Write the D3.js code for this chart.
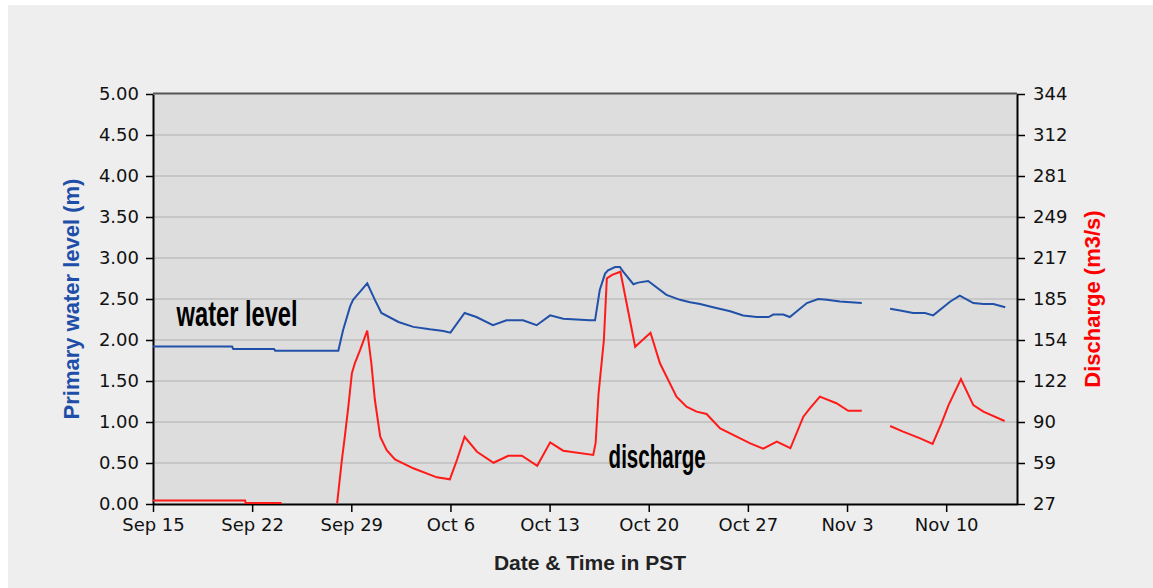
<!DOCTYPE html>
<html>
<head>
<meta charset="utf-8">
<script src="https://cdn.jsdelivr.net/npm/d3@7"></script>
<style>
  body { margin: 0; background: #ffffff; }
  svg { display: block; }
</style>
</head>
<body>
<svg id="chart" width="1153" height="588"></svg>
<script>
// water level (m), discharge (m3/s)
var levelDates = ["09-15 00","09-20 14","09-20 16","09-23 13","09-23 15","09-28 02","09-28 10","09-28 22",
	"09-29 03","09-29 15","09-30 03","09-30 16","10-01 03","10-02 08","10-03 09","10-04 13","10-05 12",
	"10-06 00","10-07 00","10-07 20","10-09 00","10-09 23","10-11 03","10-12 02","10-13 01","10-13 23",
	"10-15 20","10-16 05","10-16 13","10-16 22","10-17 03","10-17 15","10-17 23","10-18 05","10-18 22",
	"10-19 06","10-19 23","10-20 08","10-21 06","10-22 05","10-22 22","10-23 15","10-24 13","10-25 18",
	"10-26 16","10-27 15","10-28 11","10-28 19","10-29 12","10-29 23","10-30 11","10-31 04","10-31 23",
	"11-01 14","11-02 12","11-04 01","11-05 00","11-06 01","11-06 18","11-07 16","11-08 12","11-09 02",
	"11-10 07","11-10 23","11-11 22","11-12 15","11-13 08","11-14 04"];
var levelValues = [1.92,1.92,1.89,1.89,1.87,1.87,2.12,2.41,
	2.49,2.59,2.69,2.49,2.33,2.22,2.16,2.13,2.11,
	2.09,2.33,2.28,2.18,2.24,2.24,2.18,2.30,2.26,
	2.24,2.24,2.61,2.81,2.85,2.89,2.89,2.83,2.68,
	2.70,2.72,2.67,2.55,2.49,2.46,2.44,2.40,2.35,
	2.30,2.28,2.28,2.31,2.31,2.28,2.35,2.45,2.50,
	2.49,2.47,2.45,null,2.38,2.36,2.33,2.33,2.30,
	2.47,2.54,2.45,2.44,2.44,2.40];

var flowDates = ["09-15 00","09-21 12","09-21 13","09-24 02","09-26 00","09-28 00","09-28 08","09-28 13",
	"09-28 19","09-29 01","09-29 06","09-29 15","09-30 03","09-30 10","09-30 16","10-01 01","10-01 12",
	"10-02 02","10-03 09","10-05 01","10-05 23","10-06 11","10-07 00","10-07 21","10-09 01","10-10 02",
	"10-11 01","10-12 03","10-13 01","10-13 23","10-16 02","10-16 06","10-16 11","10-16 20","10-17 01",
	"10-17 10","10-18 00","10-18 05","10-19 01","10-20 03","10-20 19","10-21 23","10-22 16","10-23 09",
	"10-24 02","10-25 01","10-25 23","10-27 04","10-28 02","10-29 01","10-30 00","10-30 22","10-31 09",
	"11-01 02","11-02 06","11-03 02","11-04 01","11-05 00","11-06 01","11-06 23","11-08 04","11-09 01",
	"11-09 16","11-10 04","11-11 01","11-11 22","11-12 15","11-14 03"];
var flowValues = [29.7,29.7,27.8,27.8,null,27.5,61.0,79.0,
	102.2,128.1,135.8,146.1,161.0,135.8,107.4,79.0,68.7,
	61.5,54.6,47.6,46.1,61.0,79.0,67.4,58.9,64.3,
	64.3,56.6,74.7,68.2,64.9,74.2,112.6,153.8,201.5,
	204.1,206.6,195.0,148.6,159.4,135.8,110.0,102.2,98.4,
	96.6,85.5,80.4,73.9,69.8,75.2,70.1,94.5,101.0,
	110.0,104.9,99.1,99.1,null,87.3,82.9,77.8,73.4,
	89.4,103.5,123.6,103.5,98.4,91.2];

var dateTicks = ["09-15","09-22","09-29","10-06","10-13","10-20","10-27","11-03","11-10"];
var levelTicks = [0,0.5,1,1.5,2,2.5,3,3.5,4,4.5,5];
var flowTickLabels = ["27","59","90","122","154","185","217","249","281","312","344"];

var parseTime = d3.timeParse("%Y-%m-%d %H");
var parseDay = d3.timeParse("%Y-%m-%d");
var year = "2009-";

var plotLeft = 153, plotRight = 1017, plotTop = 94, plotBottom = 504;

var svg = d3.select("#chart");

svg.append("rect")
	.attr("x", 8).attr("y", 5)
	.attr("width", 1153 - 8).attr("height", 588 - 5)
	.style("fill", "#eeeeee");

var x = d3.scaleTime()
	.domain([parseDay(year + "09-15"), parseDay(year + "11-15")])
	.range([plotLeft, plotRight]);

var yLevel = d3.scaleLinear().domain([0, 5]).range([plotBottom, plotTop]);
var yFlow = d3.scaleLinear().domain([27, 344]).range([plotBottom, plotTop]);

svg.append("rect")
	.attr("x", plotLeft).attr("y", plotTop)
	.attr("width", plotRight - plotLeft).attr("height", plotBottom - plotTop)
	.style("fill", "#dddddd");

// grid
svg.append("g")
	.selectAll("line")
	.data(levelTicks.slice(1, -1))
	.join("line")
	.attr("x1", plotLeft).attr("x2", plotRight)
	.attr("y1", function (d) { return yLevel(d); })
	.attr("y2", function (d) { return yLevel(d); })
	.style("stroke", "#c6c6c6")
	.style("stroke-width", 2);

var tickFont = "'DejaVu Sans', Verdana, sans-serif";

var axisLeft = svg.append("g")
	.attr("transform", "translate(" + plotLeft + ",0)")
	.call(d3.axisLeft(yLevel).tickValues(levelTicks).tickFormat(d3.format(".2f"))
		.tickSize(7).tickSizeOuter(0).tickPadding(7));

var flowTickValues = flowTickLabels.map(function (d, i) { return 27 + i * 31.7; });
var axisRight = svg.append("g")
	.attr("transform", "translate(" + plotRight + ",0)")
	.call(d3.axisRight(yFlow).tickValues(flowTickValues)
		.tickFormat(function (d, i) { return flowTickLabels[i]; })
		.tickSize(8).tickSizeOuter(0).tickPadding(8));

var axisBottom = svg.append("g")
	.attr("transform", "translate(0," + plotBottom + ")")
	.call(d3.axisBottom(x).tickValues(dateTicks.map(function (d) { return parseDay(year + d); }))
		.tickFormat(d3.timeFormat("%b %-d"))
		.tickSize(8).tickSizeOuter(0).tickPadding(6));

[axisLeft, axisRight, axisBottom].forEach(function (a) {
	a.select(".domain").style("stroke", "#000").style("stroke-width", 2);
	a.selectAll(".tick line").style("stroke", "#000").style("stroke-width", 1.5);
	a.selectAll(".tick text")
		.style("font-family", tickFont)
		.style("font-size", "18px")
		.style("fill", "#111");
});

// top frame line
svg.append("line")
	.attr("x1", plotLeft).attr("x2", plotRight)
	.attr("y1", plotTop - 0.5).attr("y2", plotTop - 0.5)
	.style("stroke", "#555")
	.style("stroke-width", 2);

function makeSeries(dates, values) {
	return dates.map(function (d, i) {
		return { date: parseTime(year + d), value: values[i] };
	});
}

var levelData = makeSeries(levelDates, levelValues);
var flowData = makeSeries(flowDates, flowValues);

var levelLine = d3.line()
	.defined(function (d) { return d.value !== null; })
	.x(function (d) { return x(d.date); })
	.y(function (d) { return yLevel(d.value); });

var flowLine = d3.line()
	.defined(function (d) { return d.value !== null; })
	.x(function (d) { return x(d.date); })
	.y(function (d) { return yFlow(d.value); });

svg.append("path")
	.datum(flowData)
	.attr("d", flowLine)
	.style("fill", "none")
	.style("stroke", "#ff1a1a")
	.style("stroke-width", 2);

svg.append("path")
	.datum(levelData)
	.attr("d", levelLine)
	.style("fill", "none")
	.style("stroke", "#2150a8")
	.style("stroke-width", 2);

// annotations
svg.append("text")
	.attr("x", x(parseTime(year + "09-16 16")))
	.attr("y", yLevel(2.17))
	.attr("textLength", 121)
	.attr("lengthAdjust", "spacingAndGlyphs")
	.style("font-family", "'Liberation Sans', Arial, sans-serif")
	.style("font-weight", "bold")
	.style("font-size", "35px")
	.style("fill", "#000")
	.text("water level");

svg.append("text")
	.attr("x", x(parseTime(year + "10-17 04")))
	.attr("y", yFlow(54.5))
	.attr("textLength", 97)
	.attr("lengthAdjust", "spacingAndGlyphs")
	.style("font-family", "'Liberation Sans', Arial, sans-serif")
	.style("font-weight", "bold")
	.style("font-size", "33px")
	.style("fill", "#000")
	.text("discharge");

// axis titles
var titleFont = "'Liberation Sans', Arial, sans-serif";

svg.append("text")
	.attr("transform", "translate(79," + (plotTop + plotBottom) / 2 + ") rotate(-90)")
	.style("text-anchor", "middle")
	.style("font-family", titleFont)
	.style("font-weight", "bold")
	.style("font-size", "22px")
	.style("fill", "#1f4ea8")
	.text("Primary water level (m)");

svg.append("text")
	.attr("transform", "translate(1100," + (plotTop + plotBottom) / 2 + ") rotate(-90)")
	.style("text-anchor", "middle")
	.style("font-family", titleFont)
	.style("font-weight", "bold")
	.style("font-size", "22px")
	.style("fill", "#ff0000")
	.text("Discharge (m3/s)");

svg.append("text")
	.attr("x", (plotLeft + plotRight) / 2 + 5)
	.attr("y", 570)
	.style("text-anchor", "middle")
	.style("font-family", titleFont)
	.style("font-weight", "bold")
	.style("font-size", "21px")
	.style("fill", "#222")
	.text("Date & Time in PST");
</script>
</body>
</html>
